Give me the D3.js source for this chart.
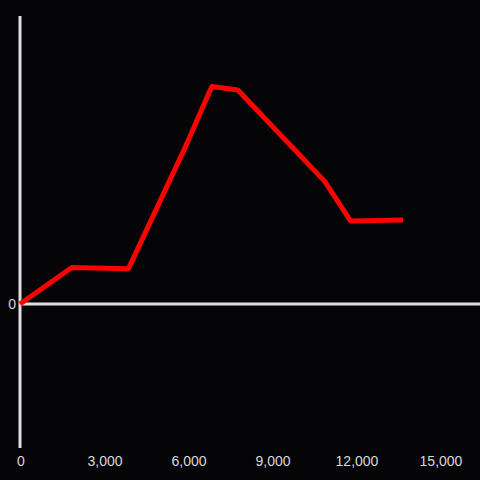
<!DOCTYPE html>
<html>
<head lang="en">
    <meta charset="UTF-8">
    <title></title>
    <style>
        body { margin: 0; background: #050407; }
        svg { font: 14px "Liberation Sans", Arial, sans-serif; display: block; }
    </style>
</head>
<body>
    <svg id="chart" width="480" height="480"></svg>
<script src="https://cdn.jsdelivr.net/npm/d3@7"></script>
<script>
    let xValues = [0, 1850, 3870, 5890, 6850, 7780, 10890, 11810, 13680];
    let yValues = [0, 12.7, 12.2, 54.2, 75.5, 74.3, 42.5, 28.8, 29.2];
    let xTicks = [0, 3000, 6000, 9000, 12000, 15000];
    let yTicks = [0];

    let data = xValues.map((d, i) => ({x: d, y: yValues[i]}));

    let svg = d3.select('#chart');

    svg.append('rect')
        .attr('width', 480)
        .attr('height', 480)
        .attr('fill', '#050407');

    let x = d3.scaleLinear()
        .domain([0, 15000])
        .range([20, 440]);

    let y = d3.scaleLinear()
        .domain([-50, 100])
        .range([448, 16]);

    // vertical axis line
    svg.append('line')
        .attr('x1', x(0)).attr('x2', x(0))
        .attr('y1', y(100)).attr('y2', y(-50))
        .attr('stroke', '#e0e0e0')
        .attr('stroke-width', 3);

    // zero line
    svg.append('line')
        .attr('x1', x(0)).attr('x2', 480)
        .attr('y1', y(0)).attr('y2', y(0))
        .attr('stroke', '#e0e0e0')
        .attr('stroke-width', 3);

    svg.selectAll('.xlabel')
        .data(xTicks)
        .enter().append('text')
        .attr('class', 'xlabel')
        .attr('x', d => x(d) + 1)
        .attr('y', 466)
        .attr('text-anchor', 'middle')
        .attr('fill', '#d8d8d8')
        .text(d => d3.format(',')(d));

    svg.selectAll('.ylabel')
        .data(yTicks)
        .enter().append('text')
        .attr('class', 'ylabel')
        .attr('x', 16)
        .attr('y', d => y(d))
        .attr('dy', '0.35em')
        .attr('text-anchor', 'end')
        .attr('fill', '#d8d8d8')
        .text(d => d);

    let line = d3.line()
        .x(d => x(d.x))
        .y(d => y(d.y));

    svg.append('path')
        .datum(data)
        .attr('fill', 'none')
        .attr('stroke', '#ff0000')
        .attr('stroke-width', 5)
        .attr('stroke-linejoin', 'round')
        .attr('d', line);
</script>
</body>
</html>
